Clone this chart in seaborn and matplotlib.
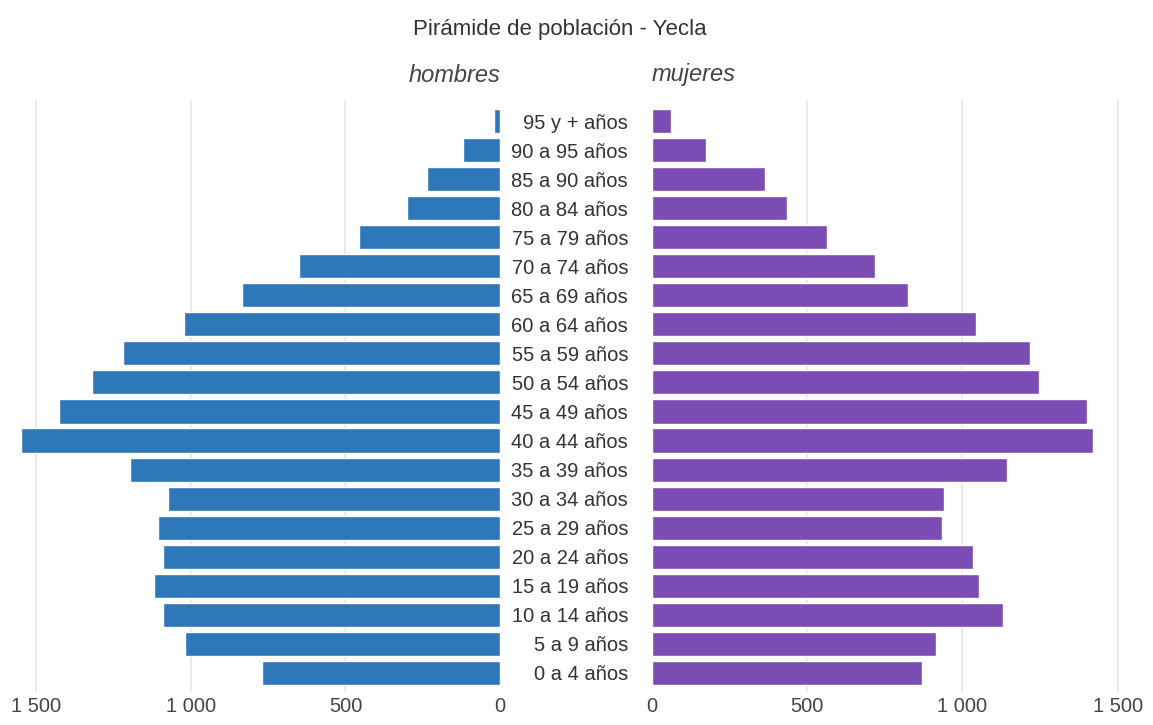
import matplotlib
matplotlib.use("Agg")
import matplotlib.pyplot as plt
import seaborn as sns
import pandas as pd

ages = ["95 y + años", "90 a 95 años", "85 a 90 años", "80 a 84 años", "75 a 79 años",
        "70 a 74 años", "65 a 69 años", "60 a 64 años", "55 a 59 años", "50 a 54 años",
        "45 a 49 años", "40 a 44 años", "35 a 39 años", "30 a 34 años", "25 a 29 años",
        "20 a 24 años", "15 a 19 años", "10 a 14 años", "5 a 9 años", "0 a 4 años"]
hombres = [18, 119, 235, 300, 455, 650, 836, 1023, 1219, 1320,
           1428, 1550, 1197, 1075, 1108, 1092, 1120, 1092, 1019, 771]
mujeres = [61, 174, 364, 435, 565, 717, 825, 1044, 1218, 1246,
           1400, 1419, 1142, 940, 933, 1033, 1054, 1131, 915, 869]
ticks = [0, 500, 1000, 1500]
tick_labels = ["0", "500", "1 000", "1 500"]

sns.set_theme(style="white")
plt.rcParams["font.family"] = ["Liberation Sans", "DejaVu Sans"]

df_h = pd.DataFrame({"edad": ages, "valor": hombres})
df_m = pd.DataFrame({"edad": ages, "valor": mujeres})

W, H = 1153, 725
fig = plt.figure(figsize=(W / 100, H / 100), dpi=100)
top_px, bot_px = 100.1, 691.8
bottom = (H - bot_px) / H
height = (bot_px - top_px) / H
axL = fig.add_axes([0 / W, bottom, 500 / W, height])
axR = fig.add_axes([651.7 / W, bottom, (W - 651.7) / W, height])

blue = "#2e78ba"
purple = "#7a4cb4"
grid_c = "#e6e6e6"

sns.barplot(data=df_h, x="valor", y="edad", ax=axL, color=blue, width=0.83,
            saturation=1, order=ages, zorder=3)
sns.barplot(data=df_m, x="valor", y="edad", ax=axR, color=purple, width=0.83,
            saturation=1, order=ages, zorder=3)

for ax, xlim in ((axL, (1618, 0)), (axR, (0, 1613))):
    ax.set_xlim(*xlim)
    ax.set_ylim(19.65, -0.72)
    for t in ticks[1:]:
        ax.axvline(t, color=grid_c, lw=1.2, zorder=0)
    ax.set_xticks(ticks)
    ax.set_xticklabels(tick_labels, fontsize=14.5, color="#444444")
    ax.tick_params(axis="x", length=0, pad=4)
    ax.set_xlabel("")
    ax.set_ylabel("")
    for s in ax.spines.values():
        s.set_visible(False)

axL.set_yticks([])
axR.tick_params(axis="y", length=0, pad=17, labelsize=14.5, labelcolor="#333333")
for lab in axR.get_yticklabels():
    lab.set_ha("right")

fig.text(560 / W, 1 - 30 / H, "Pirámide de población - Yecla", ha="center", va="center",
         fontsize=16, color="#333333")
fig.text(500 / W, 1 - 75 / H, "hombres", ha="right", va="center",
         fontsize=17, style="italic", color="#444444")
fig.text(651.7 / W, 1 - 75 / H, "mujeres", ha="left", va="center",
         fontsize=17, style="italic", color="#444444")

fig.savefig("out.png", dpi=100, facecolor="white")
